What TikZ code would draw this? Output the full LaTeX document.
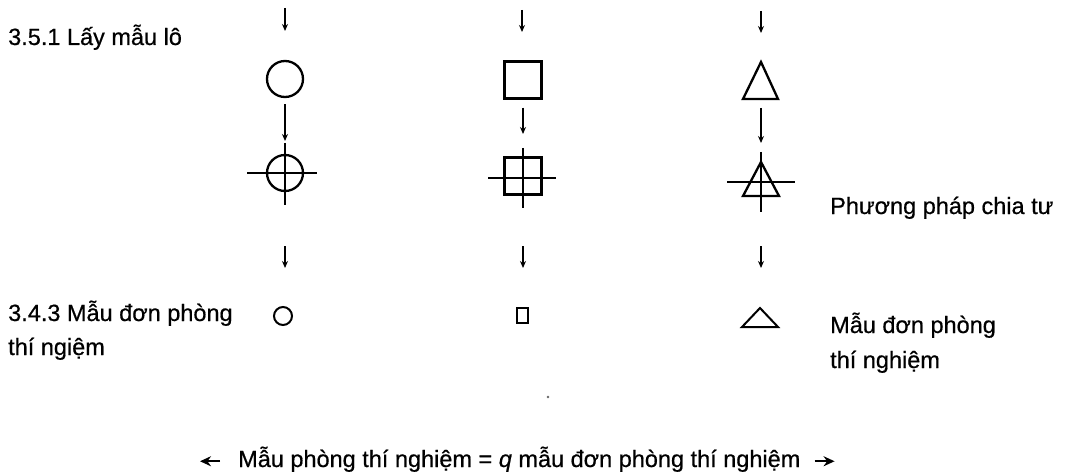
\documentclass[tikz,border=0pt]{standalone}
\usepackage{fontspec}
\setmainfont{Liberation Sans}
\usetikzlibrary{arrows.meta}
\begin{document}
\begin{tikzpicture}[x=1pt,y=-1pt,
  shp/.style={draw, line width=2.3pt, inner sep=0pt},
  thin shp/.style={draw, line width=2pt, inner sep=0pt},
  tri/.style={line width=2.3pt, line join=miter},
  cross/.style={line width=1.9pt},
  flow/.style={line width=2pt, -{Stealth[length=7pt,width=6pt]}},
  lbl/.style={inner sep=0pt, anchor=base west, font=\fontsize{23.5}{28}\selectfont\addfontfeature{FakeBold=0.6}},
  tip/.style={line width=2.4pt, -{Stealth[length=11pt,width=10pt]}}]
\useasboundingbox (0,0) rectangle (1071,476);

% labels
\node[lbl] (lot) at (8,45) {3.5.1 Lấy mẫu lô};
\node[lbl] (div) at (830,214) {Phương pháp chia tư};
\node[lbl] (incA) at (8,321) {3.4.3 Mẫu đơn phòng};
\node[lbl] (incB) at (8,355) {thí ngiệm};
\node[lbl] (incC) at (830,333) {Mẫu đơn phòng};
\node[lbl] (incD) at (830,368) {thí nghiệm};
\node[lbl] (sum) at (238,467) {Mẫu phòng thí nghiệm = \textit{q} mẫu đơn phòng thí nghiệm};

% column 1: circles
\coordinate (a0) at (285,8);  \coordinate (a1) at (285,31);
\node[shp, circle, minimum size=36pt] (c1) at (285,79) {};
\node[shp, circle, minimum size=36pt] (c2) at (285,173) {};
\draw[cross] (247,173) -- (317,173);
\draw[cross] (285,143) -- (285,205);
\coordinate (a2) at (285,246); \coordinate (a3) at (285,268);
\node[thin shp, circle, minimum size=18pt] (c3) at (283,316) {};
\draw[flow] (a0) -- (a1);
\draw[flow] ([yshift=-6pt]c1.south) -- (285,141);
\draw[flow] (a2) -- (a3);

% column 2: squares
\coordinate (b0) at (522,10); \coordinate (b1) at (522,32);
\node[shp, rectangle, minimum size=37pt] (s1) at (523,80) {};
\node[shp, rectangle, minimum size=37pt] (s2) at (523,176) {};
\draw[cross] (488,178) -- (556,178);
\draw[cross] (523,148) -- (523,208);
\coordinate (b2) at (523,246); \coordinate (b3) at (523,268);
\node[thin shp, rectangle, minimum width=11pt, minimum height=15pt] (s3) at (522,315) {};
\draw[flow] (b0) -- (b1);
\draw[flow] ([yshift=-8pt]s1.south) -- (523,134);
\draw[flow] (b2) -- (b3);

% column 3: triangles
\coordinate (t0) at (761,11); \coordinate (t1) at (761,33);
\draw[tri] (761,62) -- (778,99) -- (743,99) -- cycle;
\coordinate (t1bot) at (761,99);
\draw[tri] (761,162) -- (779,196) -- (743,196) -- cycle;
\draw[cross] (727,182) -- (795,182);
\draw[cross] (761,152) -- (761,212);
\coordinate (t2) at (761,246); \coordinate (t3) at (761,268);
\draw[line width=2pt, line join=miter] (760,308) -- (778,327) -- (742,327) -- cycle;
\draw[flow] (t0) -- (t1);
\draw[flow] ([yshift=-9pt]t1bot) -- (761,143);
\draw[flow] (t2) -- (t3);

% bottom arrows
\draw[tip] ([xshift=-18pt,yshift=-2pt]sum.west) -- ([xshift=-38pt,yshift=-2pt]sum.west);
\draw[tip] ([xshift=14pt,yshift=-2pt]sum.east) -- ([xshift=34pt,yshift=-2pt]sum.east);

% speck
\fill[black!60] (548,397) circle (1.3pt);
\end{tikzpicture}
\end{document}
